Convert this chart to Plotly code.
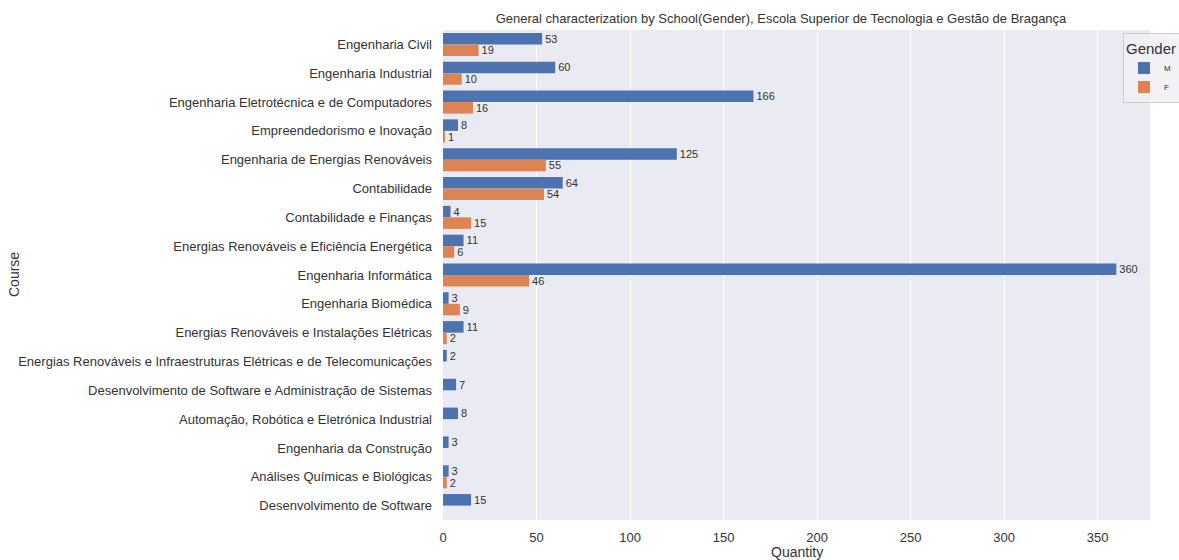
import plotly.graph_objects as go

courses = [
    "Engenharia Civil",
    "Engenharia Industrial",
    "Engenharia Eletrotécnica e de Computadores",
    "Empreendedorismo e Inovação",
    "Engenharia de Energias Renováveis",
    "Contabilidade",
    "Contabilidade e Finanças",
    "Energias Renováveis e Eficiência Energética",
    "Engenharia Informática",
    "Engenharia Biomédica",
    "Energias Renováveis e Instalações Elétricas",
    "Energias Renováveis e Infraestruturas Elétricas e de Telecomunicações",
    "Desenvolvimento de Software e Administração de Sistemas",
    "Automação, Robótica e Eletrónica Industrial",
    "Engenharia da Construção",
    "Análises Químicas e Biológicas",
    "Desenvolvimento de Software",
]
male = [53, 60, 166, 8, 125, 64, 4, 11, 360, 3, 11, 2, 7, 8, 3, 3, 15]
female = [19, 10, 16, 1, 55, 54, 15, 6, 46, 9, 2, None, None, None, None, 2, None]

x_ticks = [0, 50, 100, 150, 200, 250, 300, 350]

W, H = 1179, 560
L, R, T, B = 443, 29, 30, 40
plot_w = W - L - R
plot_h = H - T - B

FONT = "Liberation Sans, Arial, sans-serif"
TXT = "#333333"

fig = go.Figure()
for name, vals, color in [("M", male, "#4C72B0"), ("F", female, "#DD8452")]:
    fig.add_trace(go.Bar(
        y=courses, x=vals, name=name, orientation="h",
        marker=dict(color=color, line=dict(width=0)),
        text=[("" if v is None else str(v)) for v in vals],
        textposition="outside", cliponaxis=False, constraintext="none",
        textfont=dict(family=FONT, size=11, color=TXT),
    ))

fig.update_layout(
    width=W, height=H,
    margin=dict(l=L, r=R, t=T, b=B, autoexpand=False),
    barmode="group", bargap=0.2, bargroupgap=0,
    paper_bgcolor="white", plot_bgcolor="#EAEAF2",
    font=dict(family=FONT, size=13, color=TXT),
    title=dict(
        text="General characterization by School(Gender), Escola Superior de Tecnologia e Gestão de Bragança",
        x=781 / W, xanchor="center", xref="container",
        y=1 - 18 / H, yanchor="middle",
        font=dict(family=FONT, size=13, color=TXT),
    ),
    xaxis=dict(
        range=[0, 378], tickvals=x_ticks, showgrid=True, gridcolor="white",
        gridwidth=1, zeroline=False, showline=False,
        tickfont=dict(size=13, color=TXT), ticklabelstandoff=8,
    ),
    yaxis=dict(
        categoryorder="array", categoryarray=courses, autorange="reversed",
        showgrid=False, zeroline=False, showline=False,
        tickfont=dict(size=13, color=TXT), ticklabelstandoff=10,
    ),
    legend=dict(
        title=dict(text="Gender", font=dict(size=15, color=TXT)),
        font=dict(size=8, color=TXT),
        x=(1123 - L) / plot_w, y=(H - B - 33) / plot_h,
        xanchor="left", yanchor="top",
        bgcolor="rgba(240,240,245,0.9)", bordercolor="#CCCCCC", borderwidth=1,
        traceorder="normal", itemwidth=30,
    ),
    annotations=[
        dict(text="Course", xref="paper", yref="paper",
             x=(14 - L) / plot_w, y=0.5, textangle=-90,
             xanchor="center", yanchor="middle", showarrow=False,
             font=dict(size=14, color=TXT)),
        dict(text="Quantity", xref="paper", yref="paper",
             x=(797 - L) / plot_w, y=(H - B - 552) / plot_h,
             xanchor="center", yanchor="middle", showarrow=False,
             font=dict(size=14, color=TXT)),
    ],
)

fig.write_html("out.html")
